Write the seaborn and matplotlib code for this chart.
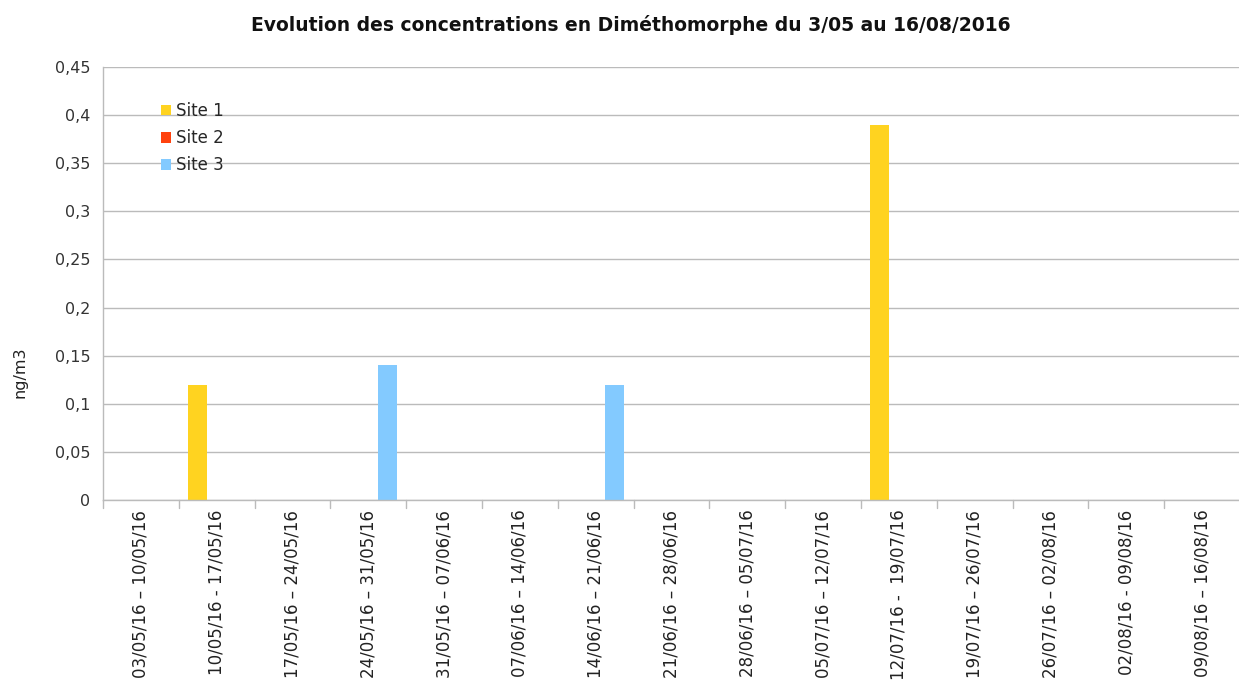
import pandas as pd
import numpy as np
import matplotlib
matplotlib.use("Agg")
import matplotlib.pyplot as plt
import seaborn as sns

# Data
periodes = [
    "03/05/16 – 10/05/16", "10/05/16 - 17/05/16", "17/05/16 – 24/05/16",
    "24/05/16 – 31/05/16", "31/05/16 – 07/06/16", "07/06/16 – 14/06/16",
    "14/06/16 – 21/06/16", "21/06/16 – 28/06/16", "28/06/16 – 05/07/16",
    "05/07/16 – 12/07/16", "12/07/16 -  19/07/16", "19/07/16 – 26/07/16",
    "26/07/16 – 02/08/16", "02/08/16 - 09/08/16", "09/08/16 – 16/08/16",
]
site1 = [0, 0.12, 0, 0, 0, 0, 0, 0, 0, 0, 0.39, 0, 0, 0, 0]
site2 = [0, 0, 0, 0, 0, 0, 0, 0, 0, 0, 0, 0, 0, 0, 0]
site3 = [0, 0, 0, 0.14, 0, 0, 0.12, 0, 0, 0, 0, 0, 0, 0, 0]
sites = ["Site 1", "Site 2", "Site 3"]
couleurs = ["#FFD320", "#FF420E", "#83CAFF"]
yticks = [0, 0.05, 0.1, 0.15, 0.2, 0.25, 0.3, 0.35, 0.4, 0.45]

df = pd.DataFrame({"Periode": periodes, "Site 1": site1, "Site 2": site2, "Site 3": site3})
df_long = df.melt(id_vars="Periode", var_name="Site", value_name="Concentration")

sns.set_style("white")
plt.rcParams["font.family"] = ["DejaVu Sans"]

fig = plt.figure(figsize=(12.39, 6.82), dpi=100)
ax = fig.add_axes([103 / 1239, 1 - 500 / 682, 1137 / 1239, 433 / 682])

sns.barplot(data=df_long, x="Periode", y="Concentration", hue="Site",
            hue_order=sites, palette=couleurs, width=0.75, ax=ax,
            saturation=1, edgecolor="none", linewidth=0)

ax.set_ylim(0, 0.45)
ax.set_xlim(-0.5, len(periodes) - 0.5)
ax.set_yticks(yticks)
ax.set_yticklabels([("%g" % v).replace(".", ",") for v in yticks], fontsize=11.5, color="#333333")
ax.set_xticks(range(len(periodes)))
ax.set_xticklabels(periodes, rotation=90, fontsize=12, color="#222222")
ax.tick_params(axis="x", length=0, pad=7)
ax.tick_params(axis="y", length=5, color="#bbbbbb", width=1, pad=4)
# tick marks between categories
for b in np.arange(-0.5, len(periodes) + 0.5, 1):
    ax.plot([b, b], [0, -0.008], color="#bbbbbb", lw=1, clip_on=False)

ax.yaxis.grid(True, color="#bbbbbb", lw=1)
ax.set_axisbelow(True)
for s in ["top", "right"]:
    ax.spines[s].set_visible(False)
for s in ["left", "bottom"]:
    ax.spines[s].set_color("#bbbbbb")
    ax.spines[s].set_linewidth(1)

ax.set_xlabel("")
ax.set_ylabel("")
fig.text(20 / 1239, 1 - 372 / 682, "ng/m3", rotation=90, fontsize=11.5,
         ha="center", va="center", color="#222222")

fig.text(631 / 1239, 1 - 25 / 682,
         "Evolution des concentrations en Diméthomorphe du 3/05 au 16/08/2016",
         fontsize=13.5, fontweight="semibold", ha="center", va="center", color="#111111")

ax.legend(loc="upper left", bbox_to_anchor=(58 / 1137, 1 - 35 / 433), frameon=False,
          fontsize=12, handlelength=0.6, handleheight=0.6, handletextpad=0.3,
          labelspacing=0.55, borderaxespad=0, borderpad=0)

fig.savefig("out.png", dpi=100)
